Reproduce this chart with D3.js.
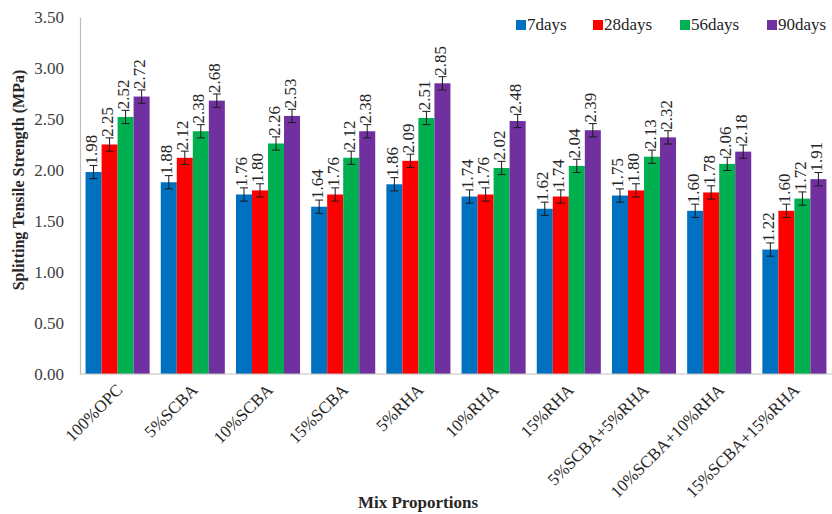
<!DOCTYPE html>
<html>
<head>
<meta charset="utf-8">
<script src="https://cdn.jsdelivr.net/npm/d3@7"></script>
<style>
  html, body { margin: 0; padding: 0; background: #fff; }
  svg { display: block; }
</style>
</head>
<body>
<svg id="chart" width="832" height="514"></svg>
<script>
// Mix proportions on the x axis
const categories = [
  "100%OPC", "5%SCBA", "10%SCBA", "15%SCBA", "5%RHA",
  "10%RHA", "15%RHA", "5%SCBA+5%RHA", "10%SCBA+10%RHA", "15%SCBA+15%RHA"
];

// Curing ages (series) and their colours
const seriesNames = ["7days", "28days", "56days", "90days"];
const seriesColors = ["#0070c0", "#ff0000", "#00b050", "#7030a0"];

// Splitting tensile strength (MPa) per curing age
const days7  = [1.98, 1.88, 1.76, 1.64, 1.86, 1.74, 1.62, 1.75, 1.60, 1.22];
const days28 = [2.25, 2.12, 1.80, 1.76, 2.09, 1.76, 1.74, 1.80, 1.78, 1.60];
const days56 = [2.52, 2.38, 2.26, 2.12, 2.51, 2.02, 2.04, 2.13, 2.06, 1.72];
const days90 = [2.72, 2.68, 2.53, 2.38, 2.85, 2.48, 2.39, 2.32, 2.18, 1.91];
const seriesValues = [days7, days28, days56, days90];

// Error bar half-height (MPa)
const errorMargin = 0.065;

// Y axis ticks
const yTicks = [0, 0.5, 1.0, 1.5, 2.0, 2.5, 3.0, 3.5];

(function () {
  const FONT = "Liberation Serif, Tinos, Times New Roman, DejaVu Serif, serif";
  const svg = d3.select("#chart").attr("font-family", FONT);
  const plotLeft = 80, plotRight = 832, plotTop = 17, plotBottom = 374;

  const x0 = d3.scaleBand()
    .domain(categories)
    .range([plotLeft, plotRight])
    .paddingInner(0.148)
    .paddingOuter(0.074);

  const x1 = d3.scaleBand()
    .domain(seriesNames)
    .range([0, x0.bandwidth()])
    .padding(0);

  const y = d3.scaleLinear().domain([0, 3.5]).range([plotBottom, plotTop]);

  // Y axis
  const yAxis = svg.append("g")
    .attr("transform", `translate(${plotLeft},0)`)
    .call(d3.axisLeft(y).tickValues(yTicks).tickFormat(d3.format(".2f")).tickSize(0).tickPadding(16));
  yAxis.attr("font-family", FONT).attr("font-size", 17);
  yAxis.select(".domain").attr("stroke", "#bfbfbf").attr("stroke-width", 1.2);
  yAxis.selectAll("text").attr("fill", "#404040");

  // Bars, error bars and value labels per mix
  const groups = svg.append("g").selectAll("g")
    .data(categories)
    .join("g")
    .attr("transform", d => `translate(${x0(d)},0)`);

  groups.each(function (cat, i) {
    const g = d3.select(this);
    const data = seriesNames.map((s, k) => ({ s, k, v: seriesValues[k][i] }));
    const cx = d => x1(d.s) + x1.bandwidth() / 2;

    g.selectAll("rect")
      .data(data)
      .join("rect")
      .attr("x", d => x1(d.s))
      .attr("y", d => y(d.v))
      .attr("width", x1.bandwidth())
      .attr("height", d => y(0) - y(d.v))
      .attr("fill", d => seriesColors[d.k]);

    const eb = g.selectAll("g.err")
      .data(data)
      .join("g")
      .attr("class", "err")
      .attr("stroke", "#1a1a1a")
      .attr("stroke-width", 1);
    eb.append("line")
      .attr("x1", cx).attr("x2", cx)
      .attr("y1", d => y(d.v + errorMargin))
      .attr("y2", d => y(d.v - errorMargin));
    eb.append("line")
      .attr("x1", d => cx(d) - 4).attr("x2", d => cx(d) + 4)
      .attr("y1", d => y(d.v + errorMargin))
      .attr("y2", d => y(d.v + errorMargin));
    eb.append("line")
      .attr("x1", d => cx(d) - 4).attr("x2", d => cx(d) + 4)
      .attr("y1", d => y(d.v - errorMargin))
      .attr("y2", d => y(d.v - errorMargin));

    g.selectAll("text.val")
      .data(data)
      .join("text")
      .attr("class", "val")
      .attr("transform", d => `translate(${cx(d) + 3.5},${y(d.v + errorMargin) - 1}) rotate(-90)`)
      .attr("font-size", 17)
      .attr("fill", "#262626")
      .text(d => d3.format(".2f")(d.v));
  });

  // X axis line
  svg.append("line")
    .attr("x1", plotLeft).attr("x2", plotRight)
    .attr("y1", plotBottom).attr("y2", plotBottom)
    .attr("stroke", "#bfbfbf").attr("stroke-width", 1.2);

  // Category labels
  svg.append("g").selectAll("text")
    .data(categories)
    .join("text")
    .attr("transform", d => `translate(${x0(d) + x0.bandwidth() / 2 + 6},${plotBottom + 17}) rotate(-45)`)
    .attr("text-anchor", "end")
    .attr("font-size", 17)
    .attr("fill", "#262626")
    .text(d => d);

  // Axis titles
  svg.append("text")
    .attr("x", 418).attr("y", 508)
    .attr("text-anchor", "middle")
    .attr("font-size", 17)
    .attr("font-weight", "bold")
    .attr("fill", "#262626")
    .text("Mix Proportions");

  svg.append("text")
    .attr("transform", "translate(24,180) rotate(-90)")
    .attr("text-anchor", "middle")
    .attr("font-size", 16)
    .attr("font-weight", "bold")
    .attr("fill", "#262626")
    .text("Splitting Tensile Strength (MPa)");

  // Legend
  const legendX = [516, 593, 680, 767];
  const legend = svg.append("g").selectAll("g")
    .data(seriesNames)
    .join("g")
    .attr("transform", (d, i) => `translate(${legendX[i]},20)`);
  legend.append("rect")
    .attr("width", 10).attr("height", 10)
    .attr("fill", (d, i) => seriesColors[i]);
  legend.append("text")
    .attr("x", 11).attr("y", 10)
    .attr("font-size", 17)
    .attr("fill", "#262626")
    .text(d => d);
})();
</script>
</body>
</html>
